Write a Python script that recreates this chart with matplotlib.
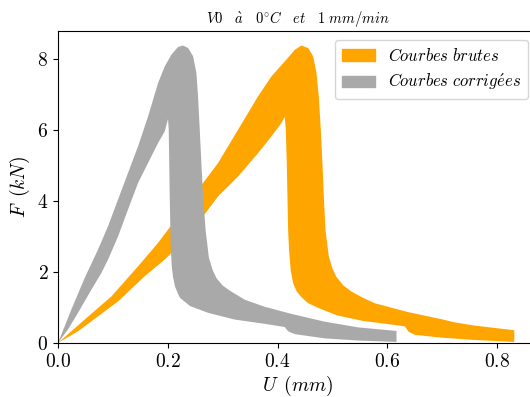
import matplotlib
matplotlib.use("Agg")
import matplotlib.pyplot as plt
from matplotlib.patches import Patch

plt.rcParams["mathtext.fontset"] = "cm"
plt.rcParams["font.family"] = "serif"
plt.rcParams["font.serif"] = ["cmr10"]
plt.rcParams["axes.formatter.use_mathtext"] = True

# Courbes brutes (bande orange) : bord superieur puis bord inferieur
brutes_haut_u = [0.0, 0.0486, 0.0972, 0.1459, 0.1823, 0.2188, 0.2552, 0.2917, 0.3282,
                 0.3646, 0.3889, 0.4132, 0.4315, 0.4436, 0.4558, 0.4649, 0.471, 0.4752,
                 0.4789, 0.4819, 0.4844, 0.4874, 0.4935, 0.500, 0.5074, 0.520, 0.5348,
                 0.555, 0.5773, 0.6381, 0.6989, 0.7232, 0.7596, 0.8314]
brutes_haut_f = [0.0, 0.66, 1.31, 2.16, 2.82, 3.57, 4.32, 5.07, 6.01,
                 6.95, 7.51, 7.93, 8.26, 8.38, 8.31, 8.08, 7.61, 6.95,
                 6.01, 5.07, 4.13, 3.19, 2.44, 2.10, 1.86, 1.62, 1.45,
                 1.28, 1.12, 0.87, 0.67, 0.58, 0.49, 0.36]
brutes_bas_u = [0.0, 0.0365, 0.0729, 0.1094, 0.158, 0.1945, 0.2188, 0.2552, 0.2917,
                0.3282, 0.3646, 0.3889, 0.4072, 0.4132, 0.4151, 0.4169, 0.4181, 0.4193,
                0.4210, 0.4240, 0.4284, 0.4350, 0.4436, 0.4560, 0.474, 0.508, 0.5566,
                0.6175, 0.632, 0.6387, 0.6503, 0.6989, 0.7596, 0.8314]
brutes_bas_f = [0.0, 0.33, 0.75, 1.17, 1.88, 2.35, 2.72, 3.38, 4.13,
                4.69, 5.35, 5.82, 6.20, 6.37, 6.01, 5.07, 4.13, 3.19,
                2.63, 2.05, 1.69, 1.45, 1.29, 1.12, 0.99, 0.78, 0.62,
                0.50, 0.47, 0.32, 0.23, 0.15, 0.085, 0.03]

# Courbes corrigees (bande grise)
corr_haut_u = [0.0, 0.0243, 0.0486, 0.0729, 0.0912, 0.1094, 0.1276, 0.1459, 0.1641,
               0.1823, 0.1945, 0.2066, 0.2188, 0.2279, 0.237, 0.2461, 0.2522, 0.2552,
               0.2583, 0.2613, 0.2644, 0.2692, 0.275, 0.282, 0.2887, 0.300, 0.3136,
               0.3403, 0.3768, 0.4254, 0.4862, 0.5469, 0.6168]
corr_haut_f = [0.0, 0.94, 1.83, 2.63, 3.29, 4.04, 4.79, 5.54, 6.38,
               7.32, 7.79, 8.12, 8.34, 8.38, 8.31, 8.08, 7.61, 6.95,
               6.01, 5.07, 4.13, 3.15, 2.40, 2.05, 1.83, 1.62, 1.47,
               1.22, 1.02, 0.82, 0.60, 0.44, 0.34]
corr_bas_u = [0.0, 0.0182, 0.0365, 0.0608, 0.079, 0.0912, 0.1094, 0.1276, 0.1459,
              0.1641, 0.1823, 0.1945, 0.2005, 0.2018, 0.2036, 0.2054, 0.2073, 0.2097,
              0.2133, 0.2188, 0.2224, 0.2407, 0.2735, 0.3221, 0.3768, 0.4132, 0.4193,
              0.4315, 0.4862, 0.5469, 0.6168]
corr_bas_f = [0.0, 0.38, 0.85, 1.50, 1.97, 2.35, 3.00, 3.76, 4.51,
              5.07, 5.63, 5.96, 6.31, 6.01, 4.13, 2.72, 2.16, 1.85,
              1.59, 1.38, 1.27, 1.04, 0.85, 0.66, 0.54, 0.45, 0.33,
              0.25, 0.13, 0.07, 0.03]

fig = plt.figure(figsize=(5.30, 3.97), dpi=100)
ax = fig.add_axes([0.1094, 0.136, 0.904, 0.786])

ax.fill(brutes_haut_u + brutes_bas_u[::-1], brutes_haut_f + brutes_bas_f[::-1],
        color="orange", lw=0)
ax.fill(corr_haut_u + corr_bas_u[::-1], corr_haut_f + corr_bas_f[::-1],
        color="darkgray", lw=0)

ax.set_xlim(0, 0.873)
ax.set_ylim(0, 8.79)
ax.set_xticks([0.0, 0.2, 0.4, 0.6, 0.8])
ax.set_yticks([0, 2, 4, 6, 8])
ax.tick_params(labelsize=14)
ax.set_xlabel(r"$U\ \,(mm)$", fontsize=14, labelpad=2)
ax.set_ylabel(r"$F\ \,(kN)$", fontsize=14, labelpad=4)
ax.set_title(r"$V0\quad \grave{a}\quad 0^{\circ}C\quad et\quad 1\ mm/min$", fontsize=10.5)

poignees = [Patch(color="orange"), Patch(color="darkgray")]
ax.legend(poignees, [r"$Courbes\ brutes$", r"$Courbes\ corrig\acute{e}es$"],
          loc="upper right", bbox_to_anchor=(0.981, 0.971), borderaxespad=0,
          fontsize=12)

plt.savefig("out.png", dpi=100)
